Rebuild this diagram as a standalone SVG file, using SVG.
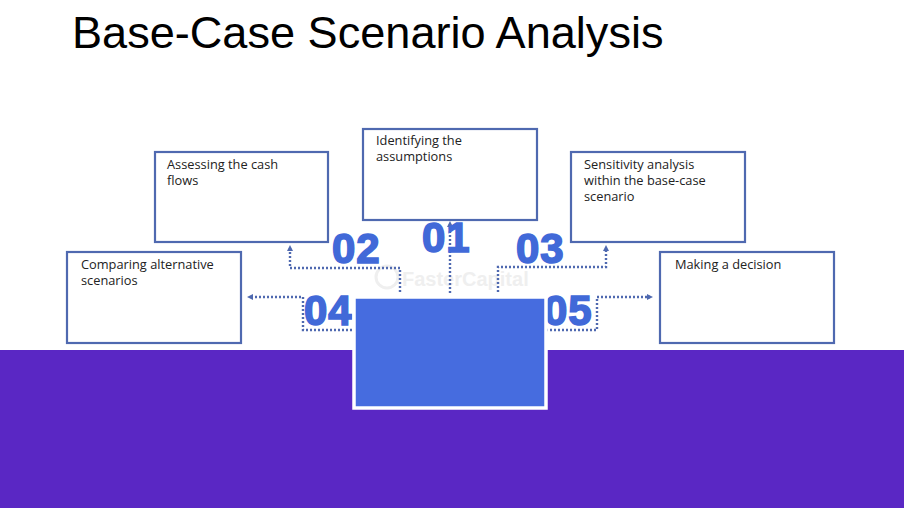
<svg xmlns="http://www.w3.org/2000/svg" width="904" height="508" viewBox="0 0 904 508">
<style>
.box{fill:#fff;stroke:#4f69b0;stroke-width:2.2}
.lbl{font-family:"Open Sans","Noto Sans",sans-serif;font-size:12.8px;fill:#222}
.num{font-family:"Liberation Sans",Arial,sans-serif;font-size:42px;font-weight:700;fill:#4169d8;stroke:#4169d8;stroke-width:1.6;letter-spacing:1px}
.dot{fill:none;stroke:#4f69b0;stroke-width:2.4;stroke-dasharray:2 2}
</style>
<defs>
<marker id="ah" markerWidth="8" markerHeight="8" refX="3" refY="3" orient="auto" markerUnits="userSpaceOnUse"><path d="M0,0L6,3L0,6Z" fill="#4f69b0"/></marker>
</defs>
<rect width="904" height="508" fill="#fff"/>
<rect id="band" x="0" y="350" width="904" height="158" fill="#5a27c4"/>
<text id="title" x="72" y="48" font-family="Liberation Sans,Arial,sans-serif" font-size="45.100" fill="#000">Base-Case Scenario Analysis</text>
<text id="watermark" x="402" y="286" font-family="Liberation Sans,Arial,sans-serif" font-size="20" font-weight="700" fill="#efefef">FasterCapital</text>
<circle cx="387" cy="277" r="11" fill="none" stroke="#efefef" stroke-width="3"/>
<g id="connectors">
<path class="dot" marker-end="url(#ah)" d="M450,293V224"/>
<path class="dot" marker-end="url(#ah)" d="M400,292V268H290V248"/>
<path class="dot" marker-end="url(#ah)" d="M498,292V267H606V248"/>
<path class="dot" marker-end="url(#ah)" d="M352,330H303V297H250"/>
<path class="dot" marker-end="url(#ah)" d="M546,330H597V297H650"/>
</g>
<g id="node-01"><rect class="box" x="363" y="129" width="174" height="91"/><text class="lbl" x="376" y="145">Identifying the</text><text class="lbl" x="376" y="161">assumptions</text><text class="num" x="422" y="252">01</text></g>
<g id="node-02"><rect class="box" x="155" y="152" width="173" height="90"/><text class="lbl" x="167" y="169">Assessing the cash</text><text class="lbl" x="167" y="185">flows</text><text class="num" x="332" y="263">02</text></g>
<g id="node-03"><rect class="box" x="571" y="152" width="174" height="90"/><text class="lbl" x="584" y="169">Sensitivity analysis</text><text class="lbl" x="584" y="185">within the base-case</text><text class="lbl" x="584" y="201">scenario</text><text class="num" x="516" y="263">03</text></g>
<g id="node-04"><rect class="box" x="67" y="252" width="174" height="91"/><text class="lbl" x="81" y="269">Comparing alternative</text><text class="lbl" x="81" y="285">scenarios</text><text class="num" x="304" y="325">04</text></g>
<g id="node-05"><rect class="box" x="660" y="252" width="174" height="91"/><text class="lbl" x="675" y="269">Making a decision</text><text class="num" x="544" y="325">05</text></g>
<g id="center"><rect x="354" y="297" width="192" height="111" fill="#466cdf" stroke="#fff" stroke-width="3.500"/></g>
</svg>
